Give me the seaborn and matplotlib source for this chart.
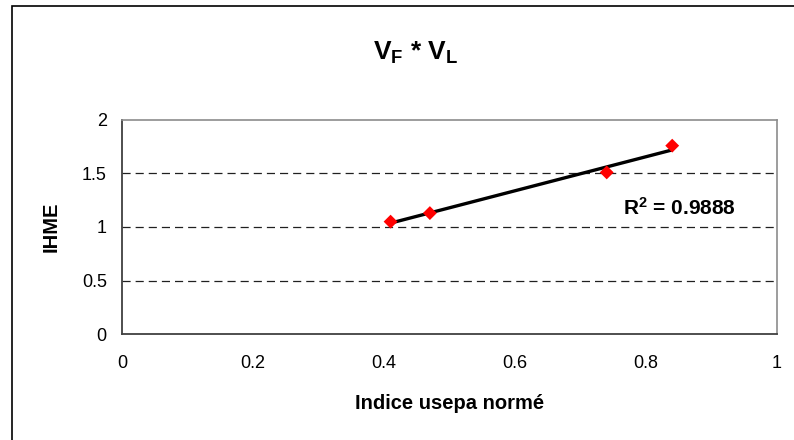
import numpy as np
import pandas as pd
import matplotlib
matplotlib.use("Agg")
import matplotlib.pyplot as plt
import seaborn as sns
from matplotlib.patches import Rectangle

# Data
indice_usepa = [0.41, 0.47, 0.74, 0.84]
ihme = [1.05, 1.13, 1.51, 1.76]
r_squared = "0.9888"
x_ticks = [0, 0.2, 0.4, 0.6, 0.8, 1]
y_ticks = [0, 0.5, 1, 1.5, 2]

df = pd.DataFrame({"x": indice_usepa, "y": ihme})

sns.set_style("white")
plt.rcParams["font.family"] = ["Liberation Sans", "DejaVu Sans"]
plt.rcParams["mathtext.fontset"] = "custom"
plt.rcParams["mathtext.rm"] = "Liberation Sans"
plt.rcParams["mathtext.bf"] = "Liberation Sans:bold"
plt.rcParams["text.color"] = "black"
plt.rcParams["axes.labelcolor"] = "black"
plt.rcParams["xtick.color"] = "black"
plt.rcParams["ytick.color"] = "black"

fig = plt.figure(figsize=(7.94, 4.4), dpi=100)
ax = fig.add_axes([0.1537, 0.2409, 0.8249, 0.4864])

# outer chart frame
fig.patches.append(Rectangle((12 / 794, -0.2), 1.2, 1.2 - 6 / 440,
                             transform=fig.transFigure, fill=False,
                             edgecolor="black", lw=1.2, zorder=0))

# trendline
sns.regplot(data=df, x="x", y="y", scatter=False, ci=None, truncate=True,
            color="black", line_kws={"lw": 2.4, "zorder": 3}, ax=ax)
# points
sns.scatterplot(data=df, x="x", y="y", marker="D", s=50, color="#ff0000",
                edgecolor="none", zorder=4, ax=ax)

ax.set_xlim(0, 1)
ax.set_ylim(0, 2)
ax.set_xticks(x_ticks)
ax.set_xticklabels(["0", "0.2", "0.4", "0.6", "0.8", "1"])
ax.set_yticks(y_ticks)
ax.set_yticklabels(["0", "0.5", "1", "1.5", "2"])

for yv in y_ticks[1:-1]:
    ax.axhline(yv, color="#202020", lw=0.9, dashes=(6.5, 4.0), zorder=1)

for side in ["left", "bottom"]:
    ax.spines[side].set_color("#404040")
    ax.spines[side].set_linewidth(1.3)
for side in ["right", "top"]:
    ax.spines[side].set_color("#8c8c8c")
    ax.spines[side].set_linewidth(1.2)

ax.tick_params(axis="both", direction="out", length=4, width=1,
               color="#404040", labelsize=13, labelcolor="black")
ax.tick_params(axis="x", pad=11)
ax.tick_params(axis="y", pad=7)

ax.set_xlabel("Indice usepa normé", fontsize=14.5, fontweight="bold",
              labelpad=16, color="black")
ax.set_ylabel("IHME", fontsize=14.5, fontweight="bold", labelpad=15,
              color="black")

ax.text(0.765, 1.18, r"$\mathbf{R^2}$ = " + r_squared,
        fontsize=15, fontweight="bold", va="center", ha="left", color="black")

fig.text(0.523, 0.88, r"$\mathbf{V_F}$ * $\mathbf{V_L}$",
         fontsize=19, fontweight="bold", ha="center", va="center", color="black")

fig.savefig("out.png", dpi=100)
